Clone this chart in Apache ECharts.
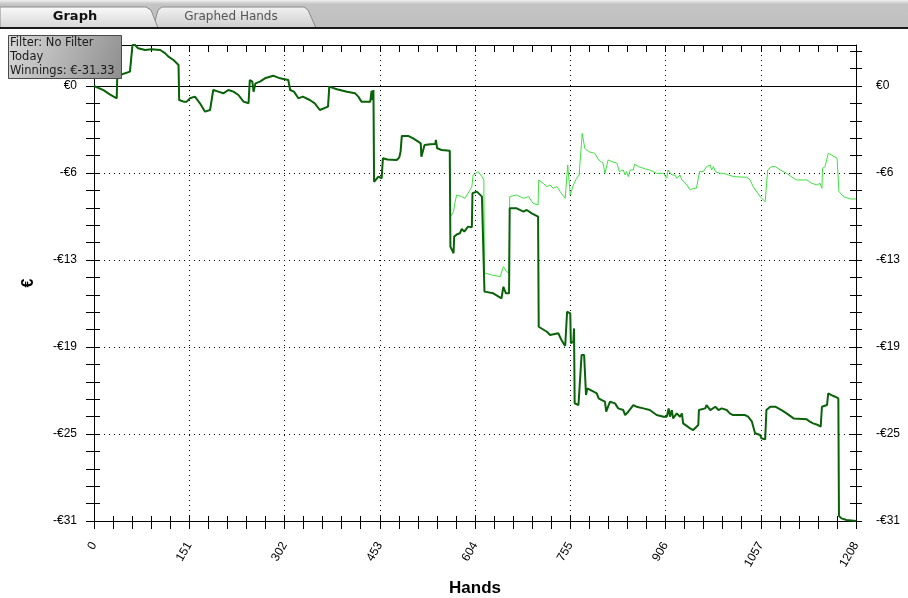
<!DOCTYPE html>
<html><head><meta charset="utf-8">
<script src="https://cdn.jsdelivr.net/npm/echarts@6/dist/echarts.min.js"></script>
<style>html,body{margin:0;padding:0;background:#fff}#c{width:908px;height:598px}</style>
</head><body><div id="c"></div>
<script>
// ---- data (hands, € winnings) ----
const commonPath = [[0,0],[15,-0.3],[25,-0.6],[36,-0.89],[37,0.85],[41,0.79],[57,1.03],[60,1.05],[61,2.95],[65,2.95],[70,2.71],[81,2.59],[91,2.64],[105,2.59],[113,2.35],[118,2.11],[126,1.87],[134,1.51],[135,-1.01],[142,-1.13],[147,-1.13],[152,-0.89],[160,-0.77],[168,-1.25],[176,-1.85],[184,-1.73],[189,-0.29],[197,-0.41],[205,-0.53],[213,-0.29],[221,-0.41],[229,-0.65],[237,-1.13],[245,-1.25],[247,0.43],[251,0.31],[253,-0.41],[256,0.19],[263,0.31],[271,0.55],[284,0.74],[295,0.55],[308,0.43],[311,-0.29],[317,-0.41],[324,-0.89],[331,-0.77],[342,-1.01],[350,-1.25],[358,-1.73],[371,-1.49],[373,-0.05],[385,-0.24],[401,-0.41],[414,-0.53],[419,-0.77],[424,-1.13],[438,-1.13],[440,-0.35],[441,-1.0],[442,-1.0],[443,-0.3],[444,-6.9],[445,-6.89],[451,-6.53],[456,-6.65],[458,-5.21],[465,-5.3],[480,-5.33],[484,-5.14],[486,-4.73],[488,-3.6],[498,-3.6],[506,-3.77],[514,-4.01],[518,-4.13],[519,-5.09],[522,-5.14],[524,-4.25],[533,-4.2],[541,-4.18],[542,-3.89],[544,-4.49],[551,-4.61],[564,-4.66]];
const darkTail = [[565,-11.57],[570,-12.05],[571,-10.85],[575,-10.7],[580,-10.61],[583,-10.3],[587,-10.49],[593,-10.13],[599,-10.18],[600,-7.73],[607,-7.61],[615,-7.97],[618,-8.09],[619,-14.81],[633,-14.93],[646,-15.29],[649,-14.46],[653,-14.93],[658,-14.93],[659,-8.81],[670,-8.81],[681,-9.05],[686,-8.93],[694,-9.17],[704,-9.41],[705,-17.34],[707,-17.46],[718,-17.7],[723,-17.93],[736,-17.81],[741,-18.29],[747,-18.73],[749,-18.65],[750,-16.26],[755,-16.38],[756,-18.53],[760,-18.41],[761,-17.46],[762,-22.85],[768,-22.98],[770,-22.85],[773,-19.37],[777,-19.37],[778,-20.33],[780,-22.26],[782,-21.78],[792,-22.02],[797,-22.14],[800,-22.5],[805,-22.62],[810,-22.74],[812,-23.46],[815,-23.46],[818,-22.74],[826,-22.86],[831,-23.22],[839,-23.34],[842,-23.7],[847,-23.46],[855,-22.98],[860,-23.1],[871,-23.22],[881,-23.34],[892,-23.7],[903,-23.82],[908,-23.82],[911,-23.22],[913,-23.82],[916,-23.34],[918,-23.94],[924,-23.58],[929,-23.82],[932,-23.58],[934,-24.3],[945,-24.66],[950,-24.78],[958,-24.42],[959,-23.34],[969,-23.22],[971,-22.98],[977,-23.34],[985,-23.1],[990,-23.34],[995,-23.22],[1003,-23.34],[1008,-23.58],[1013,-23.7],[1032,-23.7],[1037,-23.82],[1043,-24.18],[1048,-25.01],[1056,-25.14],[1058,-25.37],[1064,-25.45],[1066,-23.34],[1072,-23.1],[1080,-23.1],[1090,-23.34],[1098,-23.58],[1109,-23.94],[1130,-24.01],[1135,-24.18],[1140,-24.3],[1148,-24.42],[1152,-24.54],[1154,-23.1],[1162,-22.98],[1164,-22.13],[1169,-22.26],[1175,-22.38],[1180,-22.5],[1181,-30.97],[1185,-31.14],[1193,-31.26],[1208,-31.33]];
const lightTail = [[565,-9.41],[570,-9.05],[572,-8.45],[575,-7.85],[583,-7.97],[588,-8.09],[593,-7.73],[599,-7.25],[601,-6.41],[609,-6.17],[615,-6.53],[618,-6.77],[619,-13.45],[630,-13.61],[644,-13.73],[649,-13.01],[654,-13.37],[658,-13.49],[659,-7.97],[670,-7.85],[681,-8.09],[689,-7.97],[696,-8.45],[704,-8.57],[705,-6.77],[707,-6.89],[712,-7.01],[718,-7.25],[723,-7.13],[728,-7.37],[734,-7.25],[739,-7.61],[747,-8.09],[749,-8.09],[751,-5.69],[753,-5.81],[755,-7.85],[757,-7.85],[760,-7.13],[765,-6.65],[769,-6.41],[772,-6.29],[774,-3.41],[777,-3.41],[778,-4.49],[784,-4.73],[794,-4.85],[800,-5.33],[807,-5.57],[810,-6.29],[813,-6.29],[815,-5.33],[821,-5.45],[829,-5.57],[833,-6.17],[836,-6.29],[839,-6.05],[842,-6.41],[844,-6.17],[847,-6.53],[850,-6.05],[855,-6.05],[857,-5.64],[863,-5.81],[876,-6.0],[881,-6.05],[892,-6.29],[903,-6.29],[908,-6.65],[910,-6.05],[913,-5.93],[916,-6.41],[918,-6.53],[921,-6.41],[924,-6.65],[929,-6.41],[932,-6.77],[940,-7.13],[945,-7.49],[950,-7.37],[955,-7.37],[958,-7.49],[960,-6.17],[966,-6.17],[971,-5.81],[977,-5.69],[979,-6.05],[982,-5.81],[985,-6.17],[987,-6.05],[992,-6.29],[995,-6.17],[998,-6.29],[1006,-6.41],[1014,-6.53],[1035,-6.58],[1040,-6.77],[1045,-7.25],[1056,-7.97],[1064,-8.33],[1066,-8.33],[1068,-6.05],[1074,-5.81],[1080,-5.81],[1088,-6.05],[1098,-6.29],[1109,-6.65],[1114,-6.77],[1130,-6.77],[1138,-7.01],[1141,-6.89],[1146,-7.13],[1151,-7.01],[1154,-7.37],[1155,-5.93],[1159,-5.81],[1164,-4.85],[1169,-4.97],[1178,-5.21],[1181,-7.6],[1188,-7.97],[1199,-8.14],[1208,-8.14]];

const xTickLabels = [0,151,302,453,604,755,906,1057,1208];
const yTickValues = [-31.33,-25.064,-18.798,-12.532,-6.266,0];
const yMax = 2.95;
const tabLabels = ['Graph','Graphed Hands'];
const infoLines = ['Filter: No Filter','Today','Winnings: €-31.33'];
const xName = 'Hands', yName = '€';

// ---- derived tick positions (5 subdivisions per major step) ----
const xMinor = [];
for (let i = 0; i < xTickLabels.length - 1; i++) {
  for (let k = 0; k < 5; k++) xMinor.push(xTickLabels[i] + k * (xTickLabels[i+1] - xTickLabels[i]) / 5);
}
xMinor.push(xTickLabels[xTickLabels.length-1]);
const yStep = yTickValues[1] - yTickValues[0];
const yMin = yTickValues[0];
const yMinor = [];
for (let v = yMin, i = 0; v < yMax - 0.01; i++, v = yMin + i * yStep / 5) yMinor.push(+v.toFixed(4));

const fmtY = v => { const r = Math.round(v); return r === 0 ? '€0' : (r < 0 ? '-€' + (-r) : '€' + r); };

const G = {left: 94, right: 52, top: 45, bottom: 77, containLabel: false, outerBoundsMode: 'none'};
const black = '#000';
const tickStyle = {color: black, width: 1};
const off = {show: false};
const lineOn = {show: true, onZero: false, lineStyle: {color: black, width: 1}};
const lineOff = {show: false, onZero: false};

const grids = [];
for (let i = 0; i < 6; i++) grids.push(Object.assign({}, G));

const X = (gi, extra) => Object.assign({gridIndex: gi, type: 'value', min: 0, max: 1208,
  axisLine: lineOff, axisTick: off, axisLabel: off, splitLine: off}, extra);
const Y = (gi, extra) => Object.assign({gridIndex: gi, type: 'value', min: yMin, max: yMax,
  axisLine: lineOff, axisTick: off, axisLabel: off, splitLine: off}, extra);

const chart = echarts.init(document.getElementById('c'), null, {renderer: 'canvas'});
chart.setOption({
  animation: false,
  backgroundColor: '#fff',
  grid: grids,
  xAxis: [
    X(0, {position: 'bottom', interval: 151, axisLine: lineOn,
      axisTick: {show: true, inside: false, length: 8, customValues: xMinor, lineStyle: tickStyle},
      axisLabel: {show: true, rotate: 60, margin: 22, fontSize: 12, color: '#000', fontFamily: 'Liberation Sans',
                  customValues: xTickLabels, formatter: v => String(v)},
      name: xName, nameLocation: 'middle', nameGap: 59,
      nameTextStyle: {fontSize: 17, fontWeight: 'bold', color: '#000', fontFamily: 'Liberation Sans'}}),
    X(1, {position: 'top', axisLine: lineOn,
      axisTick: {show: true, inside: true, length: 7, customValues: xMinor, lineStyle: tickStyle}}),
    X(2, {position: 'bottom', axisTick: {show: true, inside: true, length: 5, customValues: xMinor, lineStyle: tickStyle}}),
    X(3, {position: 'bottom', interval: 151, splitLine: {show: true, lineStyle: {color: '#000', width: 1, type: [1, 4]}}}),
    X(4, {position: 'bottom'}),
    X(5, {position: 'bottom'})
  ],
  yAxis: [
    Y(0, {position: 'left', interval: yStep, axisLine: lineOn,
      axisTick: {show: true, inside: false, length: 8, customValues: yMinor, lineStyle: tickStyle},
      axisLabel: {show: true, margin: 17, fontSize: 12, color: '#000', fontFamily: 'Liberation Sans', formatter: fmtY, customValues: yTickValues},
      name: yName, nameLocation: 'middle', nameGap: 57,
      nameTextStyle: {fontSize: 16, fontWeight: 'bold', color: '#000', fontFamily: 'Liberation Sans'}}),
    Y(1, {position: 'right', interval: yStep, axisLine: lineOn,
      axisTick: {show: true, inside: false, length: 6, customValues: yMinor, lineStyle: tickStyle},
      axisLabel: {show: true, margin: 20, fontSize: 12, color: '#000', fontFamily: 'Liberation Sans', formatter: fmtY, customValues: yTickValues}}),
    Y(2, {position: 'left', axisTick: {show: true, inside: true, length: 6, customValues: yMinor, lineStyle: tickStyle}}),
    Y(3, {position: 'left', interval: yStep, splitLine: {show: true, lineStyle: {color: '#000', width: 1, type: [1, 4]}}}),
    Y(4, {position: 'right', axisTick: {show: true, inside: true, length: 6, customValues: yMinor, lineStyle: tickStyle}}),
    Y(5, {position: 'left', interval: -yMin, splitLine: {show: true, lineStyle: {color: '#000', width: 1, type: 'solid'}}})
  ],
  series: [
    {type: 'line', xAxisIndex: 0, yAxisIndex: 0, data: commonPath.concat(lightTail),
     showSymbol: false, symbol: 'none', lineStyle: {color: '#3fe03f', width: 1}, z: 3},
    {type: 'line', xAxisIndex: 0, yAxisIndex: 0, data: commonPath.concat(darkTail),
     showSymbol: false, symbol: 'none', lineStyle: {color: '#0a620a', width: 2}, z: 4}
  ],
  graphic: [
    {type: 'rect', shape: {x: 0, y: 0, width: 908, height: 28}, z: 0,
     style: {fill: new echarts.graphic.LinearGradient(0, 0, 0, 1, [{offset: 0, color: '#f0f0f0'}, {offset: 0.15, color: '#c4c4c4'}, {offset: 1, color: '#bfbfbf'}])}},
    {type: 'polygon', z: 2, shape: {points: [[153,28],[158,10],[162,7],[304,7],[308,10],[316,28]]},
     style: {fill: new echarts.graphic.LinearGradient(0, 0, 0, 1, [{offset: 0, color: '#f2f2f2'}, {offset: 1, color: '#cdcdcd'}]), stroke: '#8a8a8a', lineWidth: 1}},
    {type: 'polygon', z: 3, shape: {points: [[0,28],[0,7],[146,7],[151,10],[158,28]]},
     style: {fill: new echarts.graphic.LinearGradient(0, 0, 0, 1, [{offset: 0, color: '#fafafa'}, {offset: 1, color: '#d6d6d6'}]), stroke: '#8a8a8a', lineWidth: 1}},
    {type: 'text', z: 4, style: {text: tabLabels[0], x: 75, y: 17, align: 'center', verticalAlign: 'middle', fill: '#111', font: 'bold 13px "DejaVu Sans"'}},
    {type: 'text', z: 4, style: {text: tabLabels[1], x: 231, y: 17, align: 'center', verticalAlign: 'middle', fill: '#555', font: '12px "DejaVu Sans"'}},
    {type: 'rect', z: 5, shape: {x: 0, y: 27, width: 908, height: 2}, style: {fill: '#1a1a1a'}},
    {type: 'rect', z: 100, shape: {x: 8.5, y: 35.5, width: 113, height: 43},
     style: {fill: new echarts.graphic.LinearGradient(0, 0, 1, 1, [{offset: 0, color: '#d8d8d8'}, {offset: 1, color: '#8e8e8e'}]), stroke: '#4a4a4a', lineWidth: 1}},
    {type: 'text', z: 101, style: {text: infoLines.join('\n'), x: 10, y: 36.5, lineHeight: 13.8, fill: '#1a1a1a', font: '11.5px "DejaVu Sans"'}}
  ]
});
</script></body></html>
